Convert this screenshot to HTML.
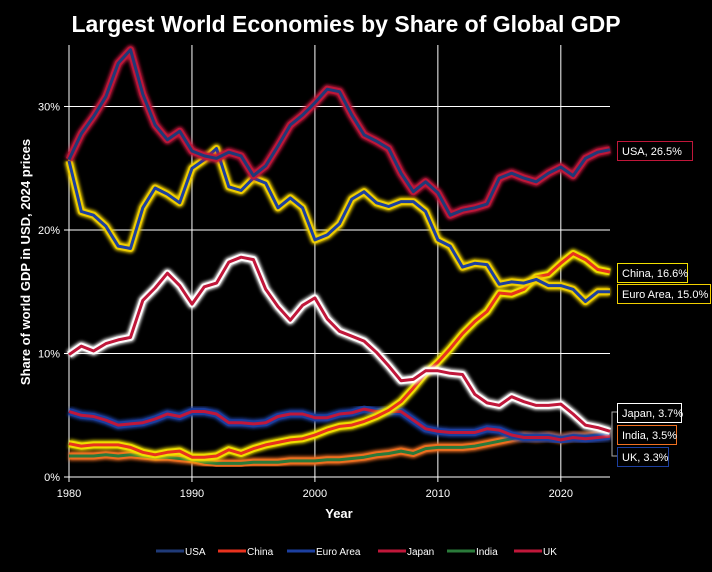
<!DOCTYPE html>
<html><head><meta charset="utf-8"><style>
body{margin:0;background:#000;width:712px;height:567px;overflow:hidden;font-family:"Liberation Sans",sans-serif}
svg text{font-family:"Liberation Sans",sans-serif;fill:#fff}
</style></head><body>
<svg id="c" width="712" height="567">
<defs><filter id="g" x="-10%" y="-10%" width="120%" height="120%"><feGaussianBlur stdDeviation="1.6"/></filter></defs>
<text x="346" y="32" text-anchor="middle" font-size="23" font-weight="bold">Largest World Economies by Share of Global GDP</text>
<g id="grid"></g><g id="lines"></g><g id="ann"></g>
<text x="339" y="518" text-anchor="middle" font-size="13" font-weight="bold">Year</text>
<text transform="translate(30,262) rotate(-90)" text-anchor="middle" font-size="13" font-weight="bold">Share of world GDP in USD, 2024 prices</text>
<g id="legend"></g>
</svg>
<script>
const years=[];for(let y=1980;y<=2024;y++)years.push(y);
const usa=[25.7,27.8,29.2,30.8,33.5,34.6,31.0,28.5,27.3,28.0,26.4,26.0,25.8,26.3,26.0,24.4,25.2,26.8,28.5,29.3,30.3,31.4,31.2,29.3,27.7,27.2,26.6,24.6,23.1,23.9,23.0,21.2,21.6,21.8,22.1,24.2,24.6,24.2,23.9,24.6,25.1,24.4,25.8,26.3,26.5];
const euro=[25.6,21.5,21.2,20.3,18.7,18.5,21.8,23.4,22.9,22.2,25.0,25.7,26.6,23.5,23.2,24.2,23.8,21.8,22.6,21.8,19.2,19.6,20.5,22.5,23.1,22.2,21.9,22.3,22.3,21.5,19.2,18.7,17.0,17.3,17.2,15.6,15.8,15.7,16.0,15.5,15.5,15.2,14.2,15.0,15.0];
const china=[2.7,2.5,2.6,2.6,2.6,2.4,2.0,1.8,2.0,2.1,1.6,1.6,1.7,2.2,1.9,2.3,2.6,2.8,3.0,3.1,3.4,3.8,4.1,4.2,4.5,4.9,5.4,6.1,7.2,8.4,9.3,10.4,11.6,12.6,13.4,14.9,14.8,15.2,16.2,16.4,17.3,18.1,17.6,16.8,16.6];
const japan=[9.9,10.6,10.2,10.8,11.1,11.3,14.3,15.3,16.5,15.5,14.0,15.4,15.7,17.4,17.8,17.6,15.2,13.8,12.7,13.9,14.5,12.8,11.8,11.4,11.0,10.1,9.0,7.8,7.9,8.6,8.6,8.4,8.3,6.7,6.0,5.8,6.5,6.1,5.8,5.8,5.9,5.1,4.2,4.0,3.7];
const uk=[5.3,5.0,4.9,4.6,4.2,4.3,4.4,4.7,5.1,4.9,5.3,5.3,5.1,4.4,4.4,4.3,4.4,4.9,5.1,5.1,4.8,4.8,5.1,5.2,5.5,5.3,5.3,5.3,4.6,3.9,3.7,3.6,3.6,3.6,3.9,3.8,3.4,3.2,3.2,3.2,3.0,3.2,3.1,3.2,3.3];
const india=[1.7,1.7,1.7,1.8,1.7,1.8,1.7,1.6,1.6,1.5,1.4,1.2,1.1,1.1,1.1,1.2,1.2,1.2,1.3,1.3,1.3,1.4,1.4,1.5,1.6,1.8,1.9,2.1,1.9,2.3,2.4,2.4,2.4,2.5,2.7,2.9,3.1,3.3,3.2,3.3,3.1,3.3,3.3,3.4,3.5];
const xTicks=[1980,1990,2000,2010,2020];
const yTicks=[0,10,20,30];
const X=y=>69+(y-1980)*(610-69)/44;
const Y=v=>477-v*12.35;
const NS='http://www.w3.org/2000/svg';
function mk(t,a,p){const e=document.createElementNS(NS,t);for(const k in a)e.setAttribute(k,a[k]);p.appendChild(e);return e;}
const grid=document.getElementById('grid');
xTicks.forEach(t=>{
 if(t>1980){const l=mk('line',{x1:X(t),x2:X(t),y1:45,y2:477,stroke:'#fff','stroke-width':1},grid);
 
 }
 mk('line',{x1:X(t),x2:X(t),y1:477,y2:482,stroke:'#fff'},grid);
 const tx=mk('text',{x:X(t),y:497,'text-anchor':'middle','font-size':11},grid);tx.textContent=t;
 
 
});
yTicks.forEach(t=>{
 if(t>0){const l=mk('line',{x1:69,x2:610,y1:Y(t),y2:Y(t),stroke:'#fff'},grid);
 
 }
 mk('line',{x1:64,x2:69,y1:Y(t),y2:Y(t),stroke:'#fff'},grid);
 const tx=mk('text',{x:60,y:Y(t)+4,'text-anchor':'end','font-size':11},grid);tx.textContent=t+'%';
 
 
});
mk('line',{x1:69,x2:69,y1:45,y2:477,stroke:'#fff'},grid);
mk('line',{x1:69,x2:610,y1:477,y2:477,stroke:'#fff'},grid);
const series=[
 ['usa',usa,'#1f3a78','#c0173a'],
 ['china',china,'#e8321e','#f2e000'],
 ['euro-area',euro,'#1c3fa0','#f2d000'],
 ['japan',japan,'#c0173a','#ffffff'],
 ['india',india,'#2a7a3a','#f07020'],
 ['uk',uk,'#c0173a','#1c3fa0']];
const lines=document.getElementById('lines');
['india','uk','china','euro-area','japan','usa'].forEach(n=>{
 const s=series.find(q=>q[0]===n);
 const d=s[1].map((v,i)=>(i?'L':'M')+X(years[i]).toFixed(1)+','+Y(v).toFixed(1)).join('');
 const g=mk('g',{},lines);
 
 
 mk('path',{d:d,fill:'none',stroke:s[3],'stroke-width':9,filter:'url(#g)','stroke-linejoin':'round'},g);
 mk('path',{d:d,fill:'none',stroke:s[3],'stroke-width':7,'stroke-linejoin':'round','stroke-opacity':0.85},g);
 mk('path',{d:d,fill:'none',stroke:s[2],'stroke-width':3,'stroke-linejoin':'round'},g);
});
const ann=document.getElementById('ann');
const labs=[['USA, 26.5%',141,'#c0173a','usa-label',75],['China, 16.6%',263,'#f2e000','china-label',70],['Euro Area, 15.0%',284,'#f2d000','euro-area-label',93],['Japan, 3.7%',403,'#fff','japan-label',64],['India, 3.5%',425,'#f07020','india-label',59],['UK, 3.3%',447,'#1c3fa0','uk-label',51]];
labs.forEach(l=>{const g=mk('g',{},ann);
 
 
 mk('rect',{x:617.5,y:l[1]+.5,width:l[4],height:19,fill:'#000',stroke:l[2]},g);
 const t=mk('text',{x:622,y:l[1]+14,'font-size':11},g);t.textContent=l[0];});
mk('path',{d:'M617,412 L612,412 L612,456 L617,456',fill:'none',stroke:'#aaa'},ann);
const leg=document.getElementById('legend');
[['USA',156,'#1f3a78'],['China',218,'#e8321e'],['Euro Area',287,'#1c3fa0'],['Japan',378,'#c0173a'],['India',447,'#2a7a3a'],['UK',514,'#c0173a']].forEach(l=>{
 const g=mk('g',{},leg);
 
 
 mk('line',{x1:l[1],x2:l[1]+28,y1:551,y2:551,stroke:l[2],'stroke-width':3},g);
 const t=mk('text',{x:l[1]+29,y:555,'font-size':10},g);t.textContent=l[0];});
</script>
</body></html>
